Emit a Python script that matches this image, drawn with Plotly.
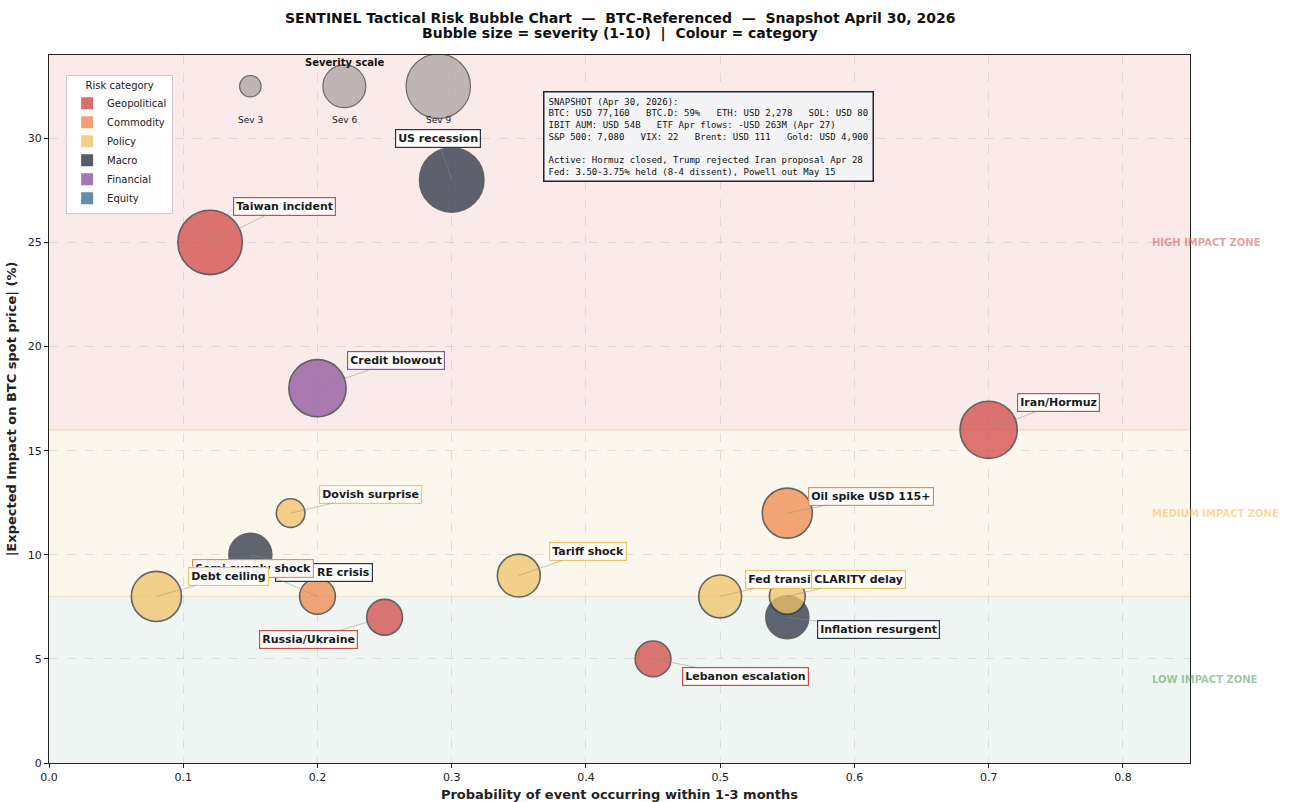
import plotly.graph_objects as go

# ---------------- data ----------------
risk_names = ["Taiwan incident", "US recession", "Credit blowout", "Iran/Hormuz",
              "Oil spike USD 115+", "Dovish surprise", "China RE crisis", "Semi supply shock",
              "Debt ceiling", "Tariff shock", "Russia/Ukraine", "Lebanon escalation",
              "Fed transition", "Inflation resurgent", "CLARITY delay"]
probabilities = [0.12, 0.30, 0.20, 0.70, 0.55, 0.18, 0.15, 0.20, 0.08, 0.35, 0.25, 0.45, 0.50, 0.55, 0.55]
impacts = [25, 28, 18, 16, 12, 12, 10, 8, 8, 9, 7, 5, 8, 7, 8]
severities = [9, 9, 8, 8, 7, 4, 6, 5, 7, 6, 5, 5, 6, 6, 5]
categories = ["Geopolitical", "Macro", "Financial", "Geopolitical", "Commodity", "Policy",
              "Macro", "Commodity", "Policy", "Policy", "Geopolitical", "Geopolitical",
              "Policy", "Macro", "Policy"]

category_order = ["Geopolitical", "Commodity", "Policy", "Macro", "Financial", "Equity"]

scale_severities = [3, 6, 9]
scale_x = [0.15, 0.22, 0.29]
scale_labels = ["Sev 3", "Sev 6", "Sev 9"]

zone_names = ["HIGH IMPACT ZONE", "MEDIUM IMPACT ZONE", "LOW IMPACT ZONE"]
zone_bounds = [(16, 34), (8, 16), (0, 8)]
zone_label_y = [25, 12, 4]

title_lines = ["SENTINEL Tactical Risk Bubble Chart  —  BTC-Referenced  —  Snapshot April 30, 2026",
               "Bubble size = severity (1-10)  |  Colour = category"]

snapshot_lines = [
    "SNAPSHOT (Apr 30, 2026):",
    "BTC: USD 77,160   BTC.D: 59%   ETH: USD 2,278   SOL: USD 80",
    "IBIT AUM: USD 54B   ETF Apr flows: -USD 263M (Apr 27)",
    "S&P 500: 7,080   VIX: 22   Brent: USD 111   Gold: USD 4,900",
    "",
    "Active: Hormuz closed, Trump rejected Iran proposal Apr 28",
    "Fed: 3.50-3.75% held (8-4 dissent), Powell out May 15",
]

# ---------------- styles / layout helpers ----------------
cat_colors = {
    "Geopolitical": "#d24a46",
    "Commodity": "#ee8a4e",
    "Policy": "#efc469",
    "Macro": "#2b3444",
    "Financial": "#8f559c",
    "Equity": "#3f6f9c",
}
zone_fill = ["rgba(215,90,90,0.13)", "rgba(240,205,140,0.17)", "rgba(160,195,180,0.17)"]
zone_text = ["rgba(215,95,95,0.6)", "rgba(240,190,80,0.55)", "rgba(80,150,100,0.55)"]
zone_edge = ["rgba(235,150,120,0.35)", "rgba(235,205,150,0.45)", "rgba(0,0,0,0)"]

# label offsets in pixels (dx right, dy down)
label_offsets = {
    "Taiwan incident": (74, -36),
    "US recession": (-14, -41),
    "Credit blowout": (79, -28),
    "Iran/Hormuz": (70, -27),
    "Oil spike USD 115+": (84, -17),
    "Dovish surprise": (80, -19),
    "China RE crisis": (74, 18),
    "Semi supply shock": (-64, -28),
    "Debt ceiling": (72, -20),
    "Tariff shock": (69, -24),
    "Russia/Ukraine": (-76, 22),
    "Lebanon escalation": (92, 18),
    "Fed transition": (71, -17),
    "Inflation resurgent": (91, 12),
    "CLARITY delay": (71, -17),
}
SIZE_PER_SEV = 7.15

fig = go.Figure()

# zone shading
shapes = []
for (y0, y1), fc in zip(zone_bounds, zone_fill):
    shapes.append(dict(type="rect", xref="x", yref="y", x0=0, x1=0.85, y0=y0, y1=y1,
                       fillcolor=fc, line=dict(width=0), layer="below"))
for yb, ec in zip([16, 8], zone_edge[:2]):
    shapes.append(dict(type="line", xref="x", yref="y", x0=0, x1=0.85, y0=yb, y1=yb,
                       line=dict(color=ec, width=1.2), layer="below"))

# severity scale bubbles
fig.add_trace(go.Scatter(
    x=scale_x, y=[32.5] * len(scale_x), mode="markers",
    marker=dict(size=[s * SIZE_PER_SEV for s in scale_severities], color="#a8a0a0",
                opacity=0.7, line=dict(color="#333333", width=1.2)),
    showlegend=False, hoverinfo="skip"))

# risk bubbles, one per point in data order
for n, xv, yv, sv, c in zip(risk_names, probabilities, impacts, severities, categories):
    fig.add_trace(go.Scatter(
        x=[xv], y=[yv], mode="markers", name=n,
        marker=dict(size=sv * SIZE_PER_SEV, color=cat_colors[c], opacity=0.75,
                    line=dict(color="#333333", width=1.6)),
        showlegend=False))

# legend entries
for c in category_order:
    fig.add_trace(go.Scatter(
        x=[None], y=[None], mode="markers", name=c,
        marker=dict(symbol="square", size=13, color=cat_colors[c], opacity=0.8,
                    line=dict(width=0))))

annotations = []
# title lines
annotations.append(dict(x=0.5, y=1.0523, xref="paper", yref="paper", text=f"<b>{title_lines[0]}</b>",
                        showarrow=False, yanchor="middle",
                        font=dict(family="DejaVu Sans", size=14, color="#111")))
annotations.append(dict(x=0.5, y=1.0297, xref="paper", yref="paper", text=f"<b>{title_lines[1]}</b>",
                        showarrow=False, yanchor="middle",
                        font=dict(family="DejaVu Sans", size=14, color="#111")))

# labels
for n, xv, yv, c in zip(risk_names, probabilities, impacts, categories):
    dx, dy = label_offsets[n]
    annotations.append(dict(
        x=xv, y=yv, xref="x", yref="y", text=f"<b>{n}</b>",
        showarrow=True, arrowhead=0, arrowwidth=0.8, arrowcolor="rgba(140,140,140,0.6)",
        ax=dx, ay=dy, font=dict(family="DejaVu Sans", size=11, color="#1a1a1a"),
        bgcolor="white", bordercolor=cat_colors[c], borderwidth=1.2, borderpad=2,
        opacity=1))

# severity scale text
for xv, lab in zip(scale_x, scale_labels):
    annotations.append(dict(x=xv, y=30.9, xref="x", yref="y", text=lab, showarrow=False,
                            font=dict(family="DejaVu Sans", size=9, color="#222")))
annotations.append(dict(x=0.22, y=33.65, xref="x", yref="y", text="<b>Severity scale</b>",
                        showarrow=False, font=dict(family="DejaVu Sans", size=10, color="#111")))

# zone labels
for name, yv, col in zip(zone_names, zone_label_y, zone_text):
    annotations.append(dict(x=0.82, y=yv, xref="x", yref="y", text=f"<b>{name}</b>",
                            xanchor="left", showarrow=False,
                            font=dict(family="DejaVu Sans", size=10, color=col)))

# snapshot box
annotations.append(dict(
    x=0.368, y=32.25, xref="x", yref="y", xanchor="left", yanchor="top", align="left",
    text="<br>".join(snapshot_lines), showarrow=False,
    font=dict(family="DejaVu Sans Mono", size=9, color="#111"),
    bgcolor="#f4f4f6", bordercolor="#1c2438", borderwidth=1.5, borderpad=4))

fig.update_layout(
    width=1290, height=802,
    margin=dict(l=49, r=100, t=55, b=39, autoexpand=False),
    paper_bgcolor="white", plot_bgcolor="white",
    font=dict(family="DejaVu Sans", size=11, color="#222"),
    shapes=shapes, annotations=annotations,
    legend=dict(title=dict(text="Risk category", side="top center", font=dict(size=10)),
                x=0.015, y=0.972, xanchor="left", yanchor="top",
                bgcolor="rgba(255,255,255,0.9)", bordercolor="#cccccc", borderwidth=1,
                font=dict(size=10), itemsizing="constant", tracegroupgap=0, itemwidth=30),
)
fig.update_xaxes(range=[0, 0.85], tickvals=[0, 0.1, 0.2, 0.3, 0.4, 0.5, 0.6, 0.7, 0.8],
                 tickformat=".1f", showgrid=True, gridcolor="rgba(190,190,190,0.45)", griddash="dash",
                 zeroline=False, showline=True, linecolor="#222", linewidth=1, mirror=True,
                 ticks="outside", ticklen=4, tickcolor="#222", automargin=False,
                 title=dict(text="<b>Probability of event occurring within 1-3 months</b>",
                            font=dict(size=13), standoff=6))
fig.update_yaxes(range=[0, 34], tickvals=[0, 5, 10, 15, 20, 25, 30],
                 showgrid=True, gridcolor="rgba(190,190,190,0.45)", griddash="dash",
                 zeroline=False, showline=True, linecolor="#222", linewidth=1, mirror=True,
                 ticks="outside", ticklen=4, tickcolor="#222", automargin=False,
                 title=dict(text="<b>|Expected Impact on BTC spot price| (%)</b>",
                            font=dict(size=13), standoff=8))

fig.write_html("out.html", config={"displayModeBar": False},
               post_script="document.body.style.margin='0px';document.body.style.overflow='hidden';")
